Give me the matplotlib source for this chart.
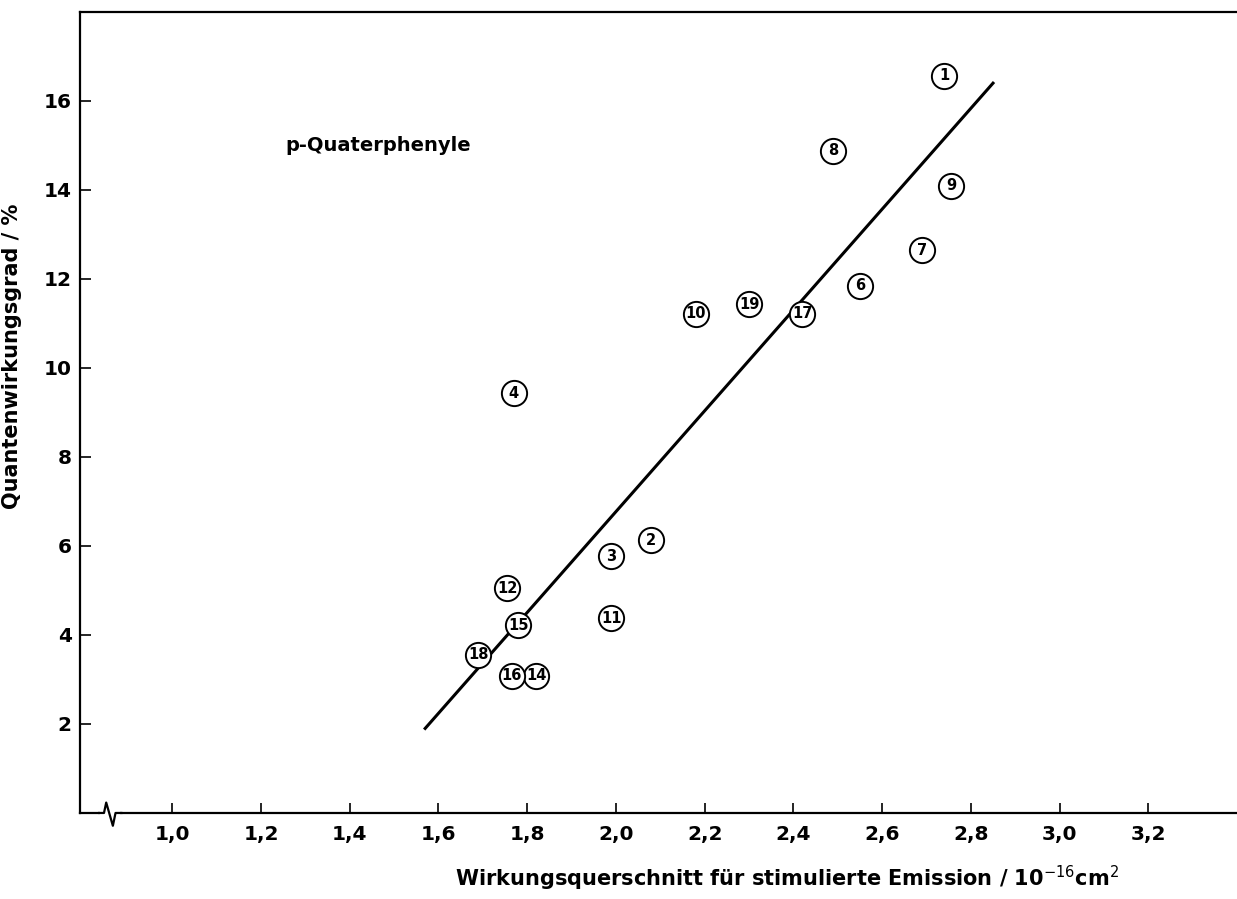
import numpy as np
import matplotlib
matplotlib.use("Agg")
import matplotlib.pyplot as plt
from matplotlib.lines import Line2D
from matplotlib.font_manager import FontProperties

# Data (x: 10^-16 cm^2, y: %)
labels = ["1", "2", "3", "4", "6", "7", "8", "9", "10", "11",
          "12", "14", "15", "16", "17", "18", "19"]
sigma = [2.74, 2.08, 1.99, 1.77, 2.55, 2.69, 2.49, 2.755, 2.18, 1.99,
         1.755, 1.82, 1.78, 1.765, 2.42, 1.69, 2.30]
qeff = [16.57, 6.13, 5.77, 9.43, 11.85, 12.64, 14.88, 14.10, 11.22, 4.38,
        5.05, 3.08, 4.22, 3.08, 11.22, 3.55, 11.43]

# regression line end points
fit_x = [1.57, 2.85]
fit_y = [1.9, 16.4]

xticks = [1.0, 1.2, 1.4, 1.6, 1.8, 2.0, 2.2, 2.4, 2.6, 2.8, 3.0, 3.2]
yticks = [2, 4, 6, 8, 10, 12, 14, 16]

FONT = dict(family="DejaVu Sans", weight="bold")

fig = plt.figure(figsize=(12.37, 8.99), dpi=100)
ax = fig.add_axes([0.0647, 0.0957, 0.9353, 0.891])

ax.set_xlim(0.792, 3.40)
ax.set_ylim(0, 18)

ax.plot(fit_x, fit_y, color="black", lw=2.2, zorder=2)
ax.scatter(sigma, qeff, s=330, facecolor="white", edgecolor="black",
           linewidths=1.4, zorder=3)
for lab, x, y in zip(labels, sigma, qeff):
    ax.text(x, y, lab, ha="center", va="center", fontsize=10.5,
            zorder=4, **FONT)

# frame: left, bottom, top only
ax.spines["right"].set_visible(False)
for s in ["left", "bottom", "top"]:
    ax.spines[s].set_linewidth(1.6)

ax.set_xticks(xticks)
ax.set_xticklabels([f"{v:.1f}".replace(".", ",") for v in xticks])
ax.set_yticks(yticks)
ax.set_yticklabels([str(v) for v in yticks])
ax.tick_params(axis="x", direction="in", length=7, width=1.2, pad=9)
ax.tick_params(axis="y", direction="in", length=8, width=1.2, pad=6)
tickfont = FontProperties(size=14.5, **FONT)
for t in ax.get_xticklabels() + ax.get_yticklabels():
    t.set_fontproperties(tickfont)

# axis break on the bottom axis
trans = ax.get_xaxis_transform()
ax.add_line(Line2D([0.842, 0.878], [0, 0], color="white", lw=3,
                   transform=trans, clip_on=False, zorder=5))
ax.add_line(Line2D([0.835, 0.846, 0.851, 0.866, 0.872, 0.885],
                   [0, 0, 0.013, -0.016, 0, 0], color="black", lw=1.6,
                   transform=trans, clip_on=False, zorder=6))

ax.text(1.255, 15.0, "p-Quaterphenyle", fontsize=14, ha="left", va="center",
        **FONT)

ax.set_xlabel("Wirkungsquerschnitt für stimulierte Emission / 10$^{-16}$cm$^2$",
              fontsize=15, **FONT)
ax.xaxis.set_label_coords(0.611, -0.063)
ax.set_ylabel("Quantenwirkungsgrad / %", fontsize=15, **FONT)
ax.yaxis.set_label_coords(-0.05, 0.57)

fig.savefig("out.png", dpi=100)
